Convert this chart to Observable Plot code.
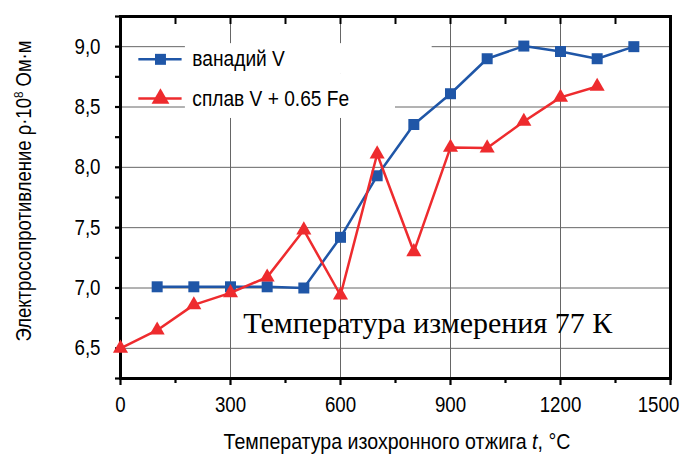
<!DOCTYPE html>
<html><head><meta charset="utf-8">
<script src="https://cdn.jsdelivr.net/npm/d3@7"></script>
<script src="https://cdn.jsdelivr.net/npm/@observablehq/plot@0.6"></script>
<style>
body{margin:0;background:#fff}
#chart svg{display:block}
</style>
</head><body><div id="chart"></div>
<script>
// ---- data ----
const tempsV = [100,200,300,400,500,600,700,800,900,1000,1100,1200,1300,1400];
const rhoV   = [7.01,7.01,7.01,7.01,7.00,7.42,7.93,8.355,8.61,8.90,9.005,8.96,8.90,9.00];
const tempsFe = [0,100,200,300,400,500,600,700,800,900,1000,1100,1200,1300];
const rhoFe   = [6.50,6.65,6.86,6.96,7.09,7.48,6.94,8.11,7.30,8.165,8.16,8.38,8.58,8.67];

const seriesNames = ["ванадий V", "сплав V + 0.65 Fe"];
const xMajor = [0,300,600,900,1200,1500];
const xMinor = [150,450,750,1050,1350];
const yMajor = [6.5,7.0,7.5,8.0,8.5,9.0];
const yMinor = [6.25,6.75,7.25,7.75,8.25,8.75,9.25];
const xDomain = [0,1500];
const yDomain = [6.25,9.25];
const annotation = "Температура измерения 77 К";
const xTitle = ["Температура изохронного отжига ", "t", ", °C"];
const yTitle = ["Электросопротивление ρ·10", "8", " Ом·м"];

// legend anchors (data units)
const legendV  = [{name: seriesNames[0], y: 8.895, x1: 50, x2: 168, xm: 109, xt: 196, bx1: 177, bx2: 850, by1: 8.77, by2: 9.025}];
const legendFe = [{name: seriesNames[1], y: 8.57,  x1: 50, x2: 168, xm: 109, xt: 196, bx1: 177, bx2: 750, by1: 8.405, by2: 8.77}];
const legendRows = legendV.concat(legendFe);

const blue = "#1f56a7", red = "#ee2b2e";
const font = "'Liberation Sans',Arial,sans-serif";
const narrow = 0.87; // condensed look of the reference's sans-serif

const dataV = tempsV.map((t,i)=>({t, r: rhoV[i]}));
const dataFe = tempsFe.map((t,i)=>({t, r: rhoFe[i]}));
const fmt = d => d.toFixed(1).replace(".", ",");

const plot = Plot.plot({
  width: 684, height: 457,
  marginLeft: 120, marginRight: 14, marginTop: 16, marginBottom: 79,
  style: {fontFamily: font, fontSize: "21px", background: "#fff", color: "#000"},
  x: {domain: xDomain},
  y: {domain: yDomain},
  marks: [
    Plot.gridX(xMajor, {stroke: "#666", strokeOpacity: 1, strokeWidth: 1}),
    Plot.gridY(yMajor, {stroke: "#666", strokeOpacity: 1, strokeWidth: 1}),
    Plot.rect(legendRows, {x1: "bx1", x2: "bx2", y1: "by1", y2: "by2", fill: "#fff"}),
    Plot.axisX(xMajor, {tickSize: 7, tickPadding: 11, tickFormat: d => String(d), label: null, strokeWidth: 2.2, fontSize: 21.5}),
    Plot.axisX(xMinor, {tickSize: 5, tickFormat: () => "", label: null, strokeWidth: 2.2}),
    Plot.axisX(xMajor.concat(xMinor), {anchor: "top", tickSize: -7, tickFormat: () => "", label: null, strokeWidth: 2}),
    Plot.axisY(yMajor, {tickSize: 5, tickPadding: 15, tickFormat: fmt, label: null, strokeWidth: 2.2, fontSize: 21.5}),
    Plot.axisY(yMinor, {tickSize: 5, tickFormat: () => "", label: null, strokeWidth: 2.2}),
    Plot.frame({stroke: "#000", strokeWidth: 3}),
    Plot.text([annotation], {x: 838, y: 6.71, text: d => d, fontFamily: "'Liberation Serif','Times New Roman',serif", fontSize: 30, fill: "#000"}),
    Plot.line(dataV, {x: "t", y: "r", stroke: blue, strokeWidth: 2.5}),
    Plot.dot(dataV, {x: "t", y: "r", symbol: "square", r: 6.2, fill: blue, stroke: "none"}),
    Plot.line(dataFe, {x: "t", y: "r", stroke: red, strokeWidth: 2.5}),
    Plot.dot(dataFe, {x: "t", y: "r", symbol: "triangle", r: 5.6, fill: red, stroke: "none"}),
    // legend
    Plot.ruleY(legendV, {y: "y", x1: "x1", x2: "x2", stroke: blue, strokeWidth: 2.5}),
    Plot.dot(legendV, {x: "xm", y: "y", symbol: "square", r: 6.2, fill: blue, stroke: "none"}),
    Plot.ruleY(legendFe, {y: "y", x1: "x1", x2: "x2", stroke: red, strokeWidth: 2.5}),
    Plot.dot(legendFe, {x: "xm", y: "y", symbol: "triangle", r: 6.6, fill: red, stroke: "none"}),
    Plot.text(legendRows, {x: "xt", y: "y", text: "name", textAnchor: "start", fontSize: 22, fill: "#000"})
  ]
});

document.getElementById("chart").appendChild(plot);
const svg = d3.select(plot);

// condense the single-run sans-serif texts (ticks, legend)
svg.selectAll("text").each(function() {
  if (this.textContent === annotation || this.textContent === "") return;
  const w = this.getComputedTextLength();
  if (w > 0) {
    this.setAttribute("textLength", (w * narrow).toFixed(1));
    this.setAttribute("lengthAdjust", "spacingAndGlyphs");
  }
});
// keep the last x tick label inside the picture
svg.selectAll("text").filter(function(){ return this.textContent === "1500"; })
  .attr("dx", -12);

// axis titles (condensed with a horizontal scale)
const xt = svg.append("text")
  .attr("transform", "translate(397,449) scale(0.89,1)").attr("text-anchor", "middle")
  .attr("font-family", font).attr("font-size", 22).attr("fill", "#000");
xt.append("tspan").text(xTitle[0]);
xt.append("tspan").attr("font-style", "italic").text(xTitle[1]);
xt.append("tspan").text(xTitle[2]);

const yt = svg.append("text")
  .attr("transform", "translate(31,191) rotate(-90) scale(0.86,1)").attr("text-anchor", "middle")
  .attr("font-family", font).attr("font-size", 21.5).attr("fill", "#000");
yt.append("tspan").text(yTitle[0]);
yt.append("tspan").attr("dy", -8).attr("font-size", 13.5).text(yTitle[1]);
yt.append("tspan").attr("dy", 8).text(yTitle[2]);
</script>
</body></html>
